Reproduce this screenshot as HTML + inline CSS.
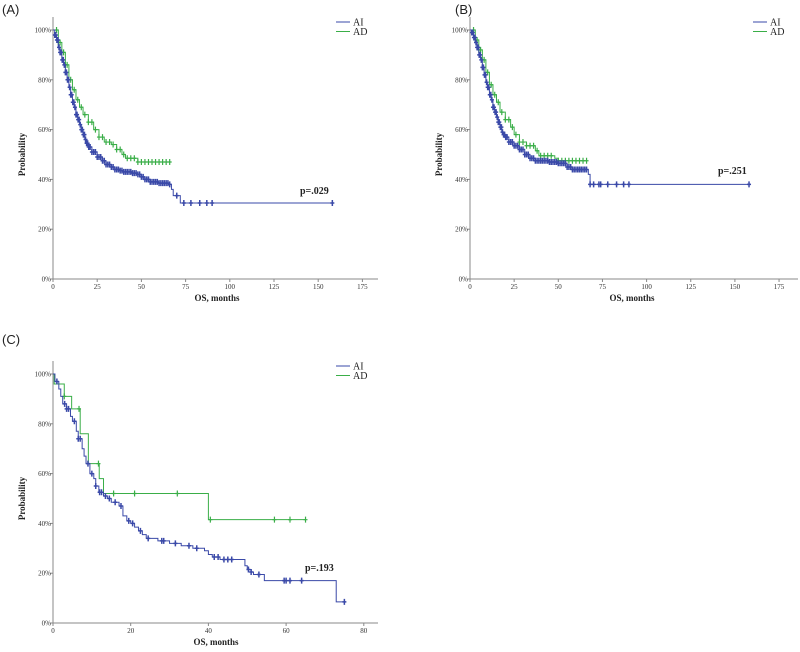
<!DOCTYPE html>
<html><head><meta charset="utf-8"><style>
html,body{margin:0;padding:0;background:#fff;}
svg{display:block;font-family:"Liberation Serif",serif;}
.pl{font-family:"Liberation Sans",sans-serif;font-size:13px;fill:#222;}
</style></head><body>
<svg id="chart" width="800" height="652" viewBox="0 0 800 652"></svg>
<script>
// ---- Panel A data ----
const aAITimes=[0,1,2,3,4,5,6,7,8,9,10,11,12,13,14,15,16,17,18,19,20,22,25,28,30,33,35,38,40,45,48,50,52,55,60,66,67,68,72,158];
const aAISurv=[100,98,96,93,91,88,86,83,80,77,74,71,69,66,64,62,60,58,56,54.5,53,51,49,47.5,46,45,44,43.5,43,42.5,42,41,40,39,38.5,38,36,33.5,30.5,30.5];
const aAICens=[1,1.6,2.2,2.8,3.4,4,4.6,5.2,5.8,6.4,7,7.6,8.2,8.8,9.4,10,10.6,11.2,11.8,12.4,13,13.6,14.2,14.8,15.4,16,16.6,17.2,17.8,18.4,19,19.6,20.2,21,22,23,24,25,26,27,28,29,30,31,32,33,34,35,36,37,38,39,40,41,42,43,44,45,46,47,48,49,50,51,52,53,54,55,56,57,58,59,60,61,62,63,64,65,66,70,74,78,83,87,90,158];
const aADTimes=[0,3,5,7,9,11,13,15,17,20,23,26,29,33,36,39,41,48,66];
const aADSurv=[100,95,91,86,80,76,72,69,66,63,60,57,55,54,52,50,48.5,47,47];
const aADCens=[2,3,4,5,6,7,8,10,12,14,16,18,20,22,24,26,28,30,32,34,36,38,40,42,44,46,48,50,52,54,56,58,60,62,64,66];
// ---- Panel B data ----
const bAITimes=[0,1,2,3,4,5,6,7,8,9,10,11,12,13,14,15,16,17,18,19,20,22,25,28,31,34,37,45,50,55,58,66,67,68,158];
const bAISurv=[100,99,97,95,93,90,88,85,82,79,77,74,72,69,67,65,63,61,59,58,57,55,53.5,52,50,48.5,47.5,47,46.5,45,44,44,42,38,38];
const bAICens=[1,1.6,2.2,2.8,3.4,4,4.6,5.2,5.8,6.4,7,7.6,8.2,8.8,9.4,10,10.6,11.2,11.8,12.4,13,13.6,14.2,14.8,15.4,16,16.6,17.2,17.8,18.4,19,19.6,20.2,21,22,23,24,25,26,27,28,29,30,31,32,33,34,35,36,37,38,39,40,41,42,43,44,45,46,47,48,49,50,51,52,53,54,55,56,57,58,59,60,61,62,63,64,65,66,68,70,73,74,78,83,87,90,158];
const bADTimes=[0,3,5,7,9,11,13,15,17,20,23,25,28,32,37,39,48,50,66];
const bADSurv=[100,96,92,88,83,78,74,71,67,64,61,58,55,53.5,51.5,49.5,48.5,47.5,47.5];
const bADCens=[2,3,4,5,6,8,10,12,14,16,18,20,22,24,26,28,30,32,34,36,38,40,42,44,46,50,52,54,56,58,60,62,64,66];
// ---- Panel C data ----
const cAITimes=[0,0.5,1.5,2,2.5,3.5,4.5,5,6,6.5,7.5,8,8.5,9.5,10.5,11,11.8,13,14,15,17,18,19,20,21,22,23,24,27,30,33,36,39,40,41,43,49.4,50,51,51.6,54.4,72.9,75];
const cAISurv=[100,97,94,91,88,86,83,81,77,74,70,67,64,60,58,55,52.5,51,50,48.5,47,43,41,40,38.5,37,35.5,34,33,32,31,30,29,27.5,26.5,25.5,23,21.5,20.5,19.5,17,8.5,8.5];
const cAICens=[1,3,3.5,4,5.5,6.5,7,9,10,11,12,12.5,13.5,14.5,16,17.5,19.5,20.5,22.5,24.5,28,28.5,31.5,35,37,41.5,42.5,44,45,46,50.3,51,53,59.5,60,61,64,75];
const cADTimes=[0,0.3,2.9,4.8,7,9.1,11.9,13,40,65];
const cADSurv=[100,96,91,86,76,64,58,52,41.5,41.5];
const cADCens=[2.9,6.7,11.7,15.6,21,32,40.5,57,61,65];
const yTicks=[0,20,40,60,80,100];
const yTickLabels=["0%","20%","40%","60%","80%","100%"];
const xTicksAB=[0,25,50,75,100,125,150,175];
const xTicksC=[0,20,40,60,80];

const NS="http://www.w3.org/2000/svg";
const svg=document.getElementById('chart');
const BLUE="#3a49a8", GREEN="#3aae48";
function mk(tag,attrs,parent,text){const e=document.createElementNS(NS,tag);for(const k in attrs)e.setAttribute(k,attrs[k]);if(text!==undefined)e.textContent=text;(parent||svg).appendChild(e);return e;}
function stepAt(ts,ss,t){let v=ss[0];for(let i=0;i<ts.length;i++){if(ts[i]<=t)v=ss[i];}return v;}

function panel(cfg){
  const g=mk('g',{});
  
  
  const x0=cfg.x0,y0=279+cfg.dy,y100=30+cfg.dy;
  const sx=t=>x0+t*cfg.pxPer;
  const sy=v=>y0-(v/100)*(y0-y100);
  const pl=mk('text',{x:cfg.lx,y:cfg.ly,class:'pl'},g,cfg.label);
  
  
  const ya=mk('line',{x1:x0,y1:17+cfg.dy,x2:x0,y2:y0,stroke:'#888','stroke-width':1},g);
  
  
  const xa=mk('line',{x1:x0,y1:y0,x2:cfg.xEnd,y2:y0,stroke:'#888','stroke-width':1},g);
  
  
  yTicks.forEach((v,i)=>{
    mk('line',{x1:x0-3,y1:sy(v),x2:x0,y2:sy(v),stroke:'#888'},g);
    const t=mk('text',{x:x0-2,y:sy(v)+2.5,'font-size':7,'text-anchor':'end',fill:'#333'},g,yTickLabels[i]);
    
    
  });
  cfg.xTicks.forEach(v=>{
    mk('line',{x1:sx(v),y1:y0,x2:sx(v),y2:y0+3,stroke:'#888'},g);
    const t=mk('text',{x:sx(v),y:y0+10,'font-size':7,'text-anchor':'middle',fill:'#333'},g,String(v));
    
    
  });
  const yt=mk('text',{x:0,y:0,'font-size':9,'font-weight':'bold','text-anchor':'middle',fill:'#222',transform:`translate(${x0-28},${(y0+y100)/2}) rotate(-90)`},g,'Probability');
  
  
  const xt=mk('text',{x:cfg.xtx,y:y0+22,'font-size':9,'font-weight':'bold','text-anchor':'middle',fill:'#222'},g,'OS, months');
  
  
  function curve(ts,ss,cens,color,nm,sw){
    let d=`M${sx(ts[0])},${sy(ss[0])}`;
    for(let i=1;i<ts.length;i++){d+=` H${sx(ts[i])} V${sy(ss[i])}`;}
    const p=mk('path',{d:d,fill:'none',stroke:color,'stroke-width':1},g);
    
    
    cens.forEach(c=>{
      const v=stepAt(ts,ss,c);
      const m=mk('path',{d:`M${sx(c)},${sy(v)-3} V${sy(v)+3} M${sx(c)-2},${sy(v)} H${sx(c)+2}`,stroke:color,'stroke-width':sw},g);
      
      
    });
  }
  curve(cfg.ad[0],cfg.ad[1],cfg.ad[2],GREEN,'ad',1.2);
  curve(cfg.ai[0],cfg.ai[1],cfg.ai[2],BLUE,'ai',1.5);
  const lg=mk('g',{},g);
  
  
  [['AI',BLUE],['AD',GREEN]].forEach((e,i)=>{
    const ly=cfg.legY+i*9.5;
    mk('line',{x1:cfg.legX,y1:ly,x2:cfg.legX+14,y2:ly,stroke:e[1]},lg);
    const t=mk('text',{x:cfg.legX+17,y:ly+3.5,'font-size':10,fill:'#222'},lg,e[0]);
    
    
  });
  const pv=mk('text',{x:cfg.px,y:cfg.py,'font-size':10,'font-weight':'bold',fill:'#222'},g,cfg.p);
  
  
}
panel({name:'panel-a',label:'(A)',lx:2,ly:14,dy:0,x0:53,pxPer:44.2/25,xEnd:378,xTicks:xTicksAB,xtx:217,
  ai:[aAITimes,aAISurv,aAICens],ad:[aADTimes,aADSurv,aADCens],legX:336,legY:22,p:'p=.029',px:300,py:194});
panel({name:'panel-b',label:'(B)',lx:455,ly:14,dy:0,x0:470,pxPer:44.15/25,xEnd:798,xTicks:xTicksAB,xtx:632,
  ai:[bAITimes,bAISurv,bAICens],ad:[bADTimes,bADSurv,bADCens],legX:753,legY:22,p:'p=.251',px:718,py:174});
panel({name:'panel-c',label:'(C)',lx:2,ly:344,dy:344,x0:53,pxPer:77.7/20,xEnd:378,xTicks:xTicksC,xtx:216,
  ai:[cAITimes,cAISurv,cAICens],ad:[cADTimes,cADSurv,cADCens],legX:336,legY:366,p:'p=.193',px:305,py:571});
</script>
</body></html>
